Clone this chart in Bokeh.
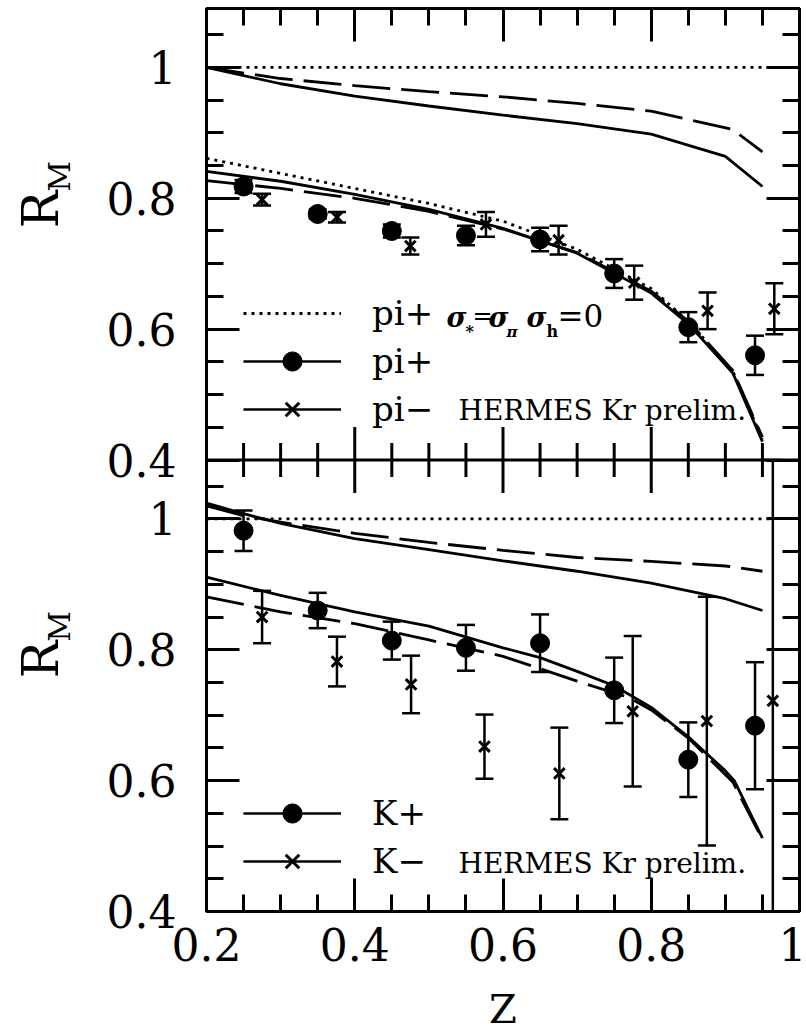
import numpy as np
from bokeh.plotting import figure
from bokeh.layouts import row, column
from bokeh.models import (Range1d, LinearAxis, FixedTicker, ColumnDataSource, Label,
                          Legend, LegendItem, Span)
from bokeh.embed import file_html
from bokeh.resources import INLINE

# ---------------- data ----------------
ref_z = [0.2, 0.96]
ref_r = [1.0, 1.0]

# pion panel: model curves
pi_up_solid_z = [0.2, 0.3, 0.4, 0.5, 0.6, 0.7, 0.8, 0.9, 0.95]
pi_up_solid_r = [1.0, 0.975, 0.956, 0.941, 0.927, 0.914, 0.898, 0.864, 0.818]
pi_up_dash_z = [0.2, 0.3, 0.4, 0.5, 0.6, 0.7, 0.8, 0.91, 0.95]
pi_up_dash_r = [1.0, 0.983, 0.972, 0.963, 0.955, 0.945, 0.933, 0.905, 0.871]
pi_low_z = [0.2, 0.3, 0.4, 0.5, 0.6, 0.7, 0.8, 0.85, 0.91, 0.95]
pi_low_solid_r = [0.841, 0.826, 0.806, 0.783, 0.754, 0.716, 0.655, 0.608, 0.533, 0.428]
pi_low_dash_r = [0.827, 0.815, 0.800, 0.780, 0.753, 0.717, 0.658, 0.612, 0.537, 0.435]
pi_low_dot_r = [0.861, 0.838, 0.815, 0.792, 0.765, 0.722, 0.662, 0.612, 0.536, 0.432]

# pion data (HERMES Kr prelim.)
pip_z = [0.25, 0.35, 0.45, 0.55, 0.65, 0.75, 0.85, 0.94]
pip_r = [0.818, 0.776, 0.750, 0.743, 0.737, 0.685, 0.603, 0.560]
pip_e = [0.010, 0.007, 0.010, 0.015, 0.018, 0.022, 0.023, 0.030]
pim_z = [0.275, 0.376, 0.475, 0.577, 0.675, 0.777, 0.876, 0.966]
pim_r = [0.798, 0.771, 0.727, 0.760, 0.736, 0.671, 0.628, 0.631]
pim_e = [0.009, 0.008, 0.013, 0.019, 0.022, 0.026, 0.028, 0.039]

# kaon panel: model curves
k_up_z = [0.2, 0.25, 0.3, 0.4, 0.5, 0.6, 0.7, 0.8, 0.9, 0.95]
k_up_solid_r = [1.024, 1.008, 0.993, 0.970, 0.953, 0.936, 0.920, 0.902, 0.878, 0.860]
k_up_dash_r = [1.020, 1.005, 0.995, 0.978, 0.964, 0.952, 0.941, 0.935, 0.928, 0.920]
k_low_solid_z = [0.2, 0.3, 0.4, 0.5, 0.6, 0.65, 0.7, 0.75, 0.8, 0.85, 0.9, 0.912, 0.95]
k_low_solid_r = [0.911, 0.883, 0.858, 0.836, 0.803, 0.788, 0.767, 0.745, 0.712, 0.667, 0.615, 0.600, 0.512]
k_low_dash_z = [0.2, 0.3, 0.4, 0.5, 0.6, 0.7, 0.77, 0.8, 0.85, 0.91, 0.95]
k_low_dash_r = [0.881, 0.858, 0.840, 0.815, 0.790, 0.752, 0.727, 0.708, 0.665, 0.598, 0.510]

# kaon data
kp_z = [0.25, 0.35, 0.45, 0.55, 0.65, 0.75, 0.85, 0.94]
kp_r = [0.982, 0.860, 0.814, 0.803, 0.810, 0.738, 0.632, 0.684]
kp_e = [0.031, 0.027, 0.029, 0.035, 0.044, 0.050, 0.057, 0.097]
km_z = [0.275, 0.376, 0.476, 0.575, 0.676, 0.775, 0.875, 0.964]
km_r = [0.850, 0.782, 0.747, 0.652, 0.611, 0.706, 0.691, 0.722]
km_e = [0.040, 0.038, 0.044, 0.049, 0.070, 0.115, 0.190, 0.400]

# ticks
x_major = [0.2, 0.4, 0.6, 0.8, 1.0]
x_minor = [0.25, 0.3, 0.35, 0.45, 0.5, 0.55, 0.65, 0.7, 0.75, 0.85, 0.9, 0.95]
x_labels = ["0.2", "0.4", "0.6", "0.8", "1"]
y_major = [0.4, 0.6, 0.8, 1.0]
y_minor = [0.45, 0.5, 0.55, 0.65, 0.7, 0.75, 0.85, 0.9, 0.95, 1.05]
y_labels = ["0.4", "0.6", "0.8", "1"]

# ---------------- figure ----------------
YLO, YHI = 0.4, 1.09
SPAN = YHI - YLO
FONT = "DejaVu Serif"
H = 981          # height of the plot row
HZ = 52          # strip holding the x-axis title
LABW = 82

p = figure(width=806 - LABW, height=H, output_backend="svg", toolbar_location=None,
           x_range=Range1d(0.2, 1.0), y_range=Range1d(YLO, YLO + 2 * SPAN),
           min_border_left=206 - LABW, min_border_right=7, min_border_top=8,
           min_border_bottom=H - 911,
           x_axis_location=None, y_axis_location=None)
p.extra_y_ranges = {"top": Range1d(YLO - SPAN, YHI)}
p.xgrid.visible = False
p.ygrid.visible = False
p.outline_line_color = "black"
p.outline_line_width = 3
p.background_fill_color = "white"
p.border_fill_color = "white"

y_ticks = y_major + [v + SPAN for v in y_major]
y_minor_all = y_minor + [v + SPAN for v in y_minor]
y_over = {}
for t, lab in zip(y_major, y_labels):
    y_over[t] = lab
for t, lab in zip([v + SPAN for v in y_major], y_labels):
    y_over[t] = lab
x_over = {t: lab for t, lab in zip(x_major, x_labels)}


def style_axis(ax, labels=True):
    ax.axis_line_width = 3
    ax.major_tick_line_width = 3
    ax.minor_tick_line_width = 3
    ax.major_tick_in = 33
    ax.major_tick_out = 0
    ax.minor_tick_in = 17
    ax.minor_tick_out = 0
    ax.major_label_text_font = FONT
    ax.major_label_text_color = "black"
    if labels:
        ax.major_label_text_font_size = "44px"
    else:
        ax.major_label_text_font_size = "1px"
        ax.major_label_standoff = 0


yl = LinearAxis(ticker=FixedTicker(ticks=y_ticks, minor_ticks=y_minor_all),
                major_label_overrides=y_over)
style_axis(yl)
yl.major_label_standoff = 30
p.add_layout(yl, "left")

yr = LinearAxis(ticker=FixedTicker(ticks=y_ticks, minor_ticks=y_minor_all),
                major_label_overrides={t: "" for t in y_ticks})
style_axis(yr, labels=False)
p.add_layout(yr, "right")

xb = LinearAxis(ticker=FixedTicker(ticks=x_major, minor_ticks=x_minor),
                major_label_overrides=x_over)
style_axis(xb)
xb.major_label_standoff = 16
p.add_layout(xb, "below")

xt = LinearAxis(ticker=FixedTicker(ticks=x_major, minor_ticks=x_minor),
                major_label_overrides={t: "" for t in x_major})
style_axis(xt, labels=False)
p.add_layout(xt, "above")

# separator between panels, with ticks on both sides
p.add_layout(Span(location=YHI, dimension="width", line_color="black", line_width=3))
sep_src = ColumnDataSource(dict(z=x_minor + x_major[1:-1],
                                y=[YHI] * (len(x_minor) + len(x_major) - 2),
                                s=[34] * len(x_minor) + [66] * (len(x_major) - 2)))
p.scatter(x="z", y="y", size="s", source=sep_src, marker="dash", angle=np.pi / 2,
          line_color="black", line_width=3)

LW = 2.8
DASH = "38 11"
DOT = "3 5"


def curve(z, r, dash, rng):
    return p.line(z, r, line_color="black", line_width=LW, line_dash=dash, y_range_name=rng)


def points(z, r, e, marker, rng):
    r = np.array(r)
    e = np.array(e)
    lo = np.clip(r - e, YLO, YHI)
    hi = np.clip(r + e, YLO, YHI)
    src = ColumnDataSource(dict(z=z, r=r, lo=lo, hi=hi))
    seg = p.segment(x0="z", y0="lo", x1="z", y1="hi", source=src, line_color="black",
                    line_width=2.5, y_range_name=rng)
    for col in ("lo", "hi"):
        p.scatter(x="z", y=col, source=src, marker="dash", size=18, line_color="black",
                  line_width=2.5, y_range_name=rng)
    if marker == "circle":
        m = p.scatter(x="z", y="r", source=src, marker="circle", size=19,
                      fill_color="black", line_color="black", y_range_name=rng)
    else:
        m = p.scatter(x="z", y="r", source=src, marker="x", size=15, line_width=3,
                      line_color="black", y_range_name=rng)
    return seg, m


# ----- top panel: pions -----
curve(ref_z, ref_r, DOT, "top")
curve(pi_up_solid_z, pi_up_solid_r, "solid", "top")
curve(pi_up_dash_z, pi_up_dash_r, DASH, "top")
dot_r = curve(pi_low_z, pi_low_dot_r, DOT, "top")
curve(pi_low_z, pi_low_solid_r, "solid", "top")
curve(pi_low_z, pi_low_dash_r, DASH, "top")
pip_seg, pip_m = points(pip_z, pip_r, pip_e, "circle", "top")
pim_seg, pim_m = points(pim_z, pim_r, pim_e, "x", "top")

# ----- bottom panel: kaons -----
curve(ref_z, ref_r, DOT, "default")
curve(k_up_z, k_up_solid_r, "solid", "default")
curve(k_up_z, k_up_dash_r, DASH, "default")
curve(k_low_solid_z, k_low_solid_r, "solid", "default")
curve(k_low_dash_z, k_low_dash_r, DASH, "default")
kp_seg, kp_m = points(kp_z, kp_r, kp_e, "circle", "default")
km_seg, km_m = points(km_z, km_r, km_e, "x", "default")


def make_legend(items, loc):
    lg = Legend(items=items, location=loc, glyph_width=98, glyph_height=48,
                label_height=48, label_standoff=31, spacing=0, padding=0, margin=0,
                border_line_alpha=0, background_fill_alpha=0,
                label_text_font=FONT, label_text_font_size="34px",
                label_text_color="black")
    p.add_layout(lg)


make_legend([LegendItem(label="pi+", renderers=[dot_r]),
             LegendItem(label="pi+", renderers=[pip_seg, pip_m]),
             LegendItem(label="pi\u2212", renderers=[pim_seg, pim_m])], (37, 478))
make_legend([LegendItem(label="K+", renderers=[kp_seg, kp_m]),
             LegendItem(label="K\u2212", renderers=[km_seg, km_m])], (37, 26))

# frame origin (bottom-left) in page pixels
FX, FY = 206, 911


def lab(fig, text, xa, ya, size, style="normal", align="left", angle=0.0, fx=FX, fy=FY):
    fig.add_layout(Label(x=xa - fx, y=fy - ya, x_units="screen", y_units="screen",
                         text=text, text_font=FONT, text_font_size=size,
                         text_font_style=style, text_align=align,
                         text_baseline="middle", text_color="black", angle=angle))


# sigma annotation of the first legend entry
lab(p, "\u03c3", 446, 317, "27px", "bold italic")
lab(p, "*", 465, 331, "16px", "bold")
lab(p, "=", 472, 315, "24px")
lab(p, "\u03c3", 488, 317, "27px", "bold italic")
lab(p, "\u03c0", 506, 331, "15px", "bold italic")
lab(p, "\u03c3", 526, 317, "27px", "bold italic")
lab(p, "h", 546, 331, "16px", "bold")
lab(p, "=0", 557, 315, "31px")

lab(p, "HERMES Kr prelim.", 458, 410, "28px")
lab(p, "HERMES Kr prelim.", 458, 863, "28px")

# y-axis titles R_M in a narrow strip left of the plot (its frame is aligned with the plot's)
side = figure(width=LABW, height=H, output_backend="svg", toolbar_location=None,
              x_range=Range1d(0, 1), y_range=Range1d(0, 1), min_border=0,
              x_axis_location=None, y_axis_location=None)
side.xgrid.visible = False
side.ygrid.visible = False
side.outline_line_color = None
side.border_fill_color = "white"
for ry in (209, 659):
    lab(side, "R", 40, ry, "50px", align="center", angle=np.pi / 2, fx=0, fy=FY)
    lab(side, "M", 59, ry - 33, "30px", align="center", angle=np.pi / 2, fx=0, fy=FY)

# x-axis title strip below the plot
zf = figure(width=806, height=HZ, output_backend="svg", toolbar_location=None,
            x_range=Range1d(0.2, 1.0), y_range=Range1d(0, 1),
            min_border_left=206, min_border_right=7, min_border_top=0, min_border_bottom=0,
            x_axis_location=None, y_axis_location=None)
zf.xgrid.visible = False
zf.ygrid.visible = False
zf.outline_line_color = None
zf.border_fill_color = "white"
zf.add_layout(Label(x=0.6, y=0.47, text="Z", text_font=FONT, text_font_size="40px",
                    text_align="center", text_baseline="middle", text_color="black"))

layout = column(row(side, p, spacing=0), zf, spacing=0)
open("out.html", "w").write(file_html(layout, INLINE))
